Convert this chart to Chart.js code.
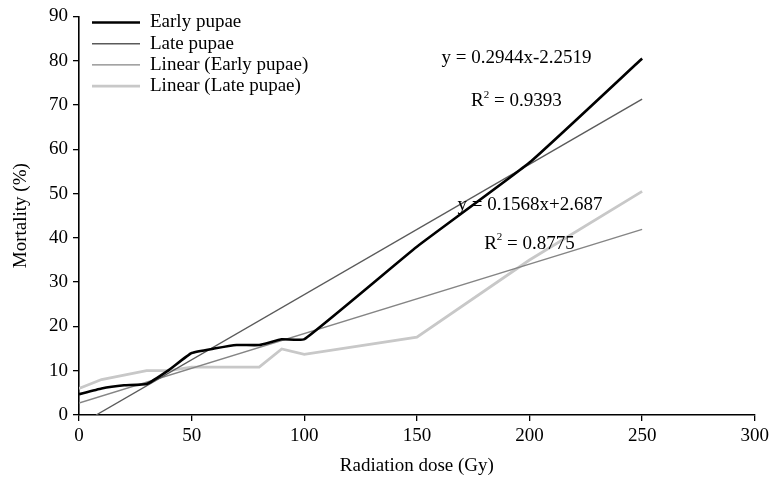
<!DOCTYPE html>
<html lang="en">
<head>
  <meta charset="UTF-8" />
  <title>Mortality vs radiation dose</title>
  <script src="https://cdn.jsdelivr.net/npm/chart.js@4"></script>
  <style>
    html, body { margin: 0; padding: 0; background: #fff; }
    #wrap { width: 773px; height: 483px; }
  </style>
</head>
<body>
<div id="wrap"><canvas id="chart"></canvas></div>

<script>
  // values
  const doses = [0, 10, 20, 30, 40, 50, 60, 70, 80, 90, 100, 150, 200, 250];
  const earlyPupae = [4.7, 6.0, 6.7, 7.0, 10.2, 14.0, 15.0, 15.8, 15.8, 17.1, 17.1, 38.0, 57.0, 80.5];
  const latePupae = [6.0, 8.0, 9.0, 10.0, 10.0, 10.8, 10.8, 10.8, 10.8, 14.9, 13.7, 17.6, 35.0, 50.5];

  // trend line end points
  const trendEarlyX = [7.6, 250];
  const trendEarlyY = [0, 71.3];
  const trendLateX = [0, 250];
  const trendLateY = [2.7, 41.9];

  // legend text as it appears in the figure (in dataset order)
  const legendNames = ['Early pupae', 'Late pupae', 'Linear (Early pupae)', 'Linear (Late pupae)'];

  const eqEarly = 'y = 0.2944x-2.2519';
  const r2Early = '0.9393';
  const eqLate = 'y = 0.1568x+2.687';
  const r2Late = '0.8775';

  const xMax = 300, xStep = 50;
  const yMax = 90, yStep = 10;

  const FONT = "'Liberation Serif', 'Times New Roman', serif";
  Chart.defaults.font.family = FONT;
  Chart.defaults.font.size = 19;
  Chart.defaults.color = '#000';

  const toPoints = (xs, ys) => xs.map((x, i) => ({ x: x, y: ys[i] }));

  const legendPlugin = {
    id: 'figLegend',
    afterDraw(chart) {
      const ctx = chart.ctx;
      ctx.save();
      ctx.font = '19px ' + FONT;
      ctx.textBaseline = 'middle';
      ctx.fillStyle = '#000';
      chart.data.datasets.forEach((ds, i) => {
        const y = 22.5 + i * 21.2;
        ctx.strokeStyle = ds.borderColor;
        ctx.lineWidth = ds.borderWidth;
        ctx.beginPath();
        ctx.moveTo(92, y);
        ctx.lineTo(140, y);
        ctx.stroke();
        ctx.fillText(legendNames[i], 150, y);
      });
      ctx.restore();
    }
  };

  // equation / R² labels, anchored in data units
  const labelPlugin = {
    id: 'eqLabels',
    afterDraw(chart) {
      const ctx = chart.ctx;
      const sx = chart.scales.x, sy = chart.scales.y;
      ctx.save();
      ctx.fillStyle = '#000';
      ctx.textBaseline = 'middle';

      function plain(text, x, y) {
        ctx.font = '19px ' + FONT;
        ctx.textAlign = 'center';
        ctx.fillText(text, sx.getPixelForValue(x), sy.getPixelForValue(y));
      }
      function rsq(value, x, y) {
        const big = '19px ' + FONT, small = '11px ' + FONT;
        const rest = ' = ' + value;
        ctx.font = big;
        const wR = ctx.measureText('R').width;
        const wRest = ctx.measureText(rest).width;
        ctx.font = small;
        const w2 = ctx.measureText('2').width;
        const total = wR + w2 + wRest;
        let px = sx.getPixelForValue(x) - total / 2;
        const py = sy.getPixelForValue(y);
        ctx.textAlign = 'left';
        ctx.font = big;
        ctx.fillText('R', px, py);
        px += wR;
        ctx.font = small;
        ctx.fillText('2', px, py - 6);
        px += w2;
        ctx.font = big;
        ctx.fillText(rest, px, py);
      }

      plain(eqEarly, 194.2, 80.6);
      rsq(r2Early, 194.2, 70.9);
      plain(eqLate, 200.2, 47.3);
      rsq(r2Late, 200, 38.7);
      ctx.restore();
    }
  };

  new Chart(document.getElementById('chart'), {
    type: 'line',
    data: {
      datasets: [
        {
          label: 'Early pupae',
          data: toPoints(doses, earlyPupae),
          borderColor: '#000000',
          borderWidth: 2.6,
          tension: 0.12,
          pointRadius: 0
        },
        {
          label: 'Linear (Early pupae)',
          data: toPoints(trendEarlyX, trendEarlyY),
          borderColor: '#5a5a5a',
          borderWidth: 1.4,
          pointRadius: 0
        },
        {
          label: 'Linear (Late pupae)',
          data: toPoints(trendLateX, trendLateY),
          borderColor: '#858585',
          borderWidth: 1.4,
          pointRadius: 0
        },
        {
          label: 'Late pupae',
          data: toPoints(doses, latePupae),
          borderColor: '#c8c8c8',
          borderWidth: 2.8,
          pointRadius: 0
        }
      ]
    },
    options: {
      responsive: true,
      maintainAspectRatio: false,
      animation: false,
      layout: { padding: { top: 15, right: 16, left: 0, bottom: 0 } },
      plugins: {
        legend: { display: false },
        tooltip: { enabled: false }
      },
      scales: {
        x: {
          type: 'linear',
          min: 0,
          max: xMax,
          ticks: { stepSize: xStep, padding: 4 },
          grid: { drawOnChartArea: false, tickLength: 6, color: '#000', lineWidth: 1.3 },
          border: { color: '#000', width: 1.6 },
          title: { display: true, text: 'Radiation dose (Gy)', padding: { top: 0, bottom: 6 } },
          afterFit(scale) { scale.height = 68; }
        },
        y: {
          min: 0,
          max: yMax,
          ticks: { stepSize: yStep, padding: 5 },
          grid: { drawOnChartArea: false, tickLength: 6, color: '#000', lineWidth: 1.3 },
          border: { color: '#000', width: 1.6 },
          title: { display: true, text: 'Mortality (%)', padding: { top: 10, bottom: 0 } },
          afterFit(scale) { scale.width = 79; }
        }
      }
    },
    plugins: [legendPlugin, labelPlugin]
  });
</script>
</body>
</html>
